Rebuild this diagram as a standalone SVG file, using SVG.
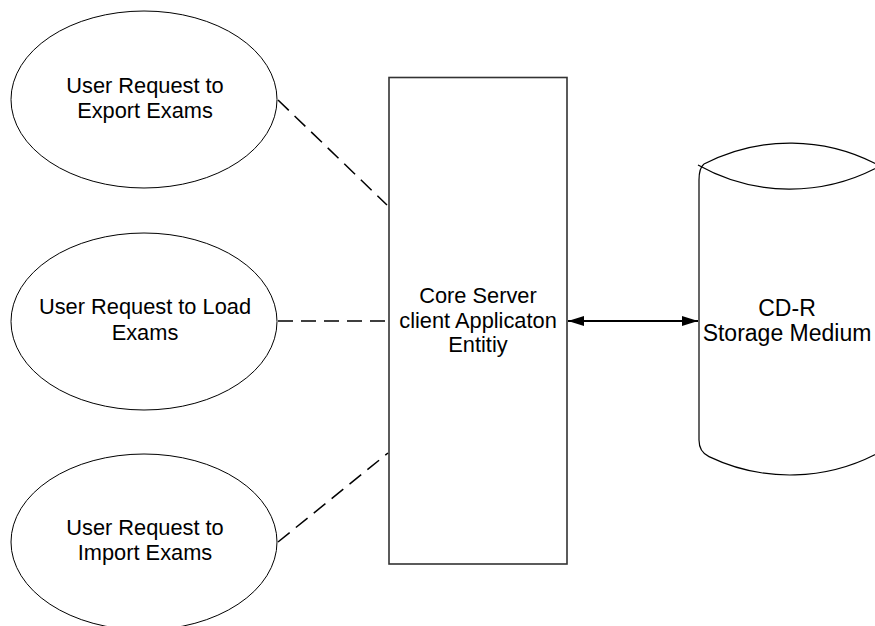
<svg xmlns="http://www.w3.org/2000/svg" width="875" height="626" viewBox="0 0 875 626">
  <style>
    .shape { fill: #ffffff; stroke: #000000; stroke-width: 1; }
    .line { fill: none; stroke: #000000; stroke-width: 1.2; }
    .box { fill: #ffffff; stroke: #333333; stroke-width: 1.6; }
    .lbl { font-family: "Liberation Sans", Arial, sans-serif; font-size: 21.8px; fill: #000000; text-anchor: middle; }
    .big { font-size: 23px; }
    .dash { fill: none; stroke: #000000; stroke-width: 1.5; stroke-dasharray: 15 8; }
    .arrow { fill: none; stroke: #000000; stroke-width: 2; }
  </style>
  <defs>
    <marker id="ah" viewBox="0 0 16 10" refX="16" refY="5" markerWidth="16" markerHeight="10" markerUnits="userSpaceOnUse" orient="auto-start-reverse">
      <path d="M0,0 L16,5 L0,10 Z" fill="#000000"/>
    </marker>
  </defs>
  <rect width="875" height="626" fill="#ffffff"/>

  <g id="export">
    <ellipse class="shape" cx="144" cy="99.5" rx="133" ry="88.5"/>
    <text class="lbl" x="145" y="93">User Request to</text>
    <text class="lbl" x="145" y="118">Export Exams</text>
  </g>

  <g id="load">
    <ellipse class="shape" cx="144" cy="321.5" rx="133" ry="88.5"/>
    <text class="lbl" x="145" y="314">User Request to Load</text>
    <text class="lbl" x="145" y="340">Exams</text>
  </g>

  <g id="import">
    <ellipse class="shape" cx="144" cy="542" rx="133" ry="88"/>
    <text class="lbl" x="145" y="535">User Request to</text>
    <text class="lbl" x="145" y="560">Import Exams</text>
  </g>

  <g id="core">
    <rect class="box" x="389" y="77.5" width="178" height="486.5"/>
    <text class="lbl" x="478" y="303">Core Server</text>
    <text class="lbl" x="478" y="328">client Applicaton</text>
    <text class="lbl" x="478" y="352">Entitiy</text>
  </g>

  <g id="cdr">
    <path class="line" d="M704,164 Q699,168 699,180 L699,440 Q699,452 709,456.6 A187.6,187.6 0 0 0 880,452"/>
    <path class="line" d="M704,164 A187.6,187.6 0 0 1 880,166"/>
    <path class="line" d="M698,165 A187.6,187.6 0 0 0 880,166"/>
    <text class="lbl big" x="787" y="316">CD-R</text>
    <text class="lbl big" x="787" y="341">Storage Medium</text>
  </g>

  <g id="connectors">
    <line class="dash" x1="278" y1="100" x2="387" y2="205"/>
    <line class="dash" x1="278" y1="321" x2="388" y2="321"/>
    <line class="dash" x1="278" y1="542" x2="388" y2="453"/>
    <line class="arrow" x1="568" y1="321" x2="698" y2="321" marker-start="url(#ah)" marker-end="url(#ah)"/>
  </g>
</svg>
